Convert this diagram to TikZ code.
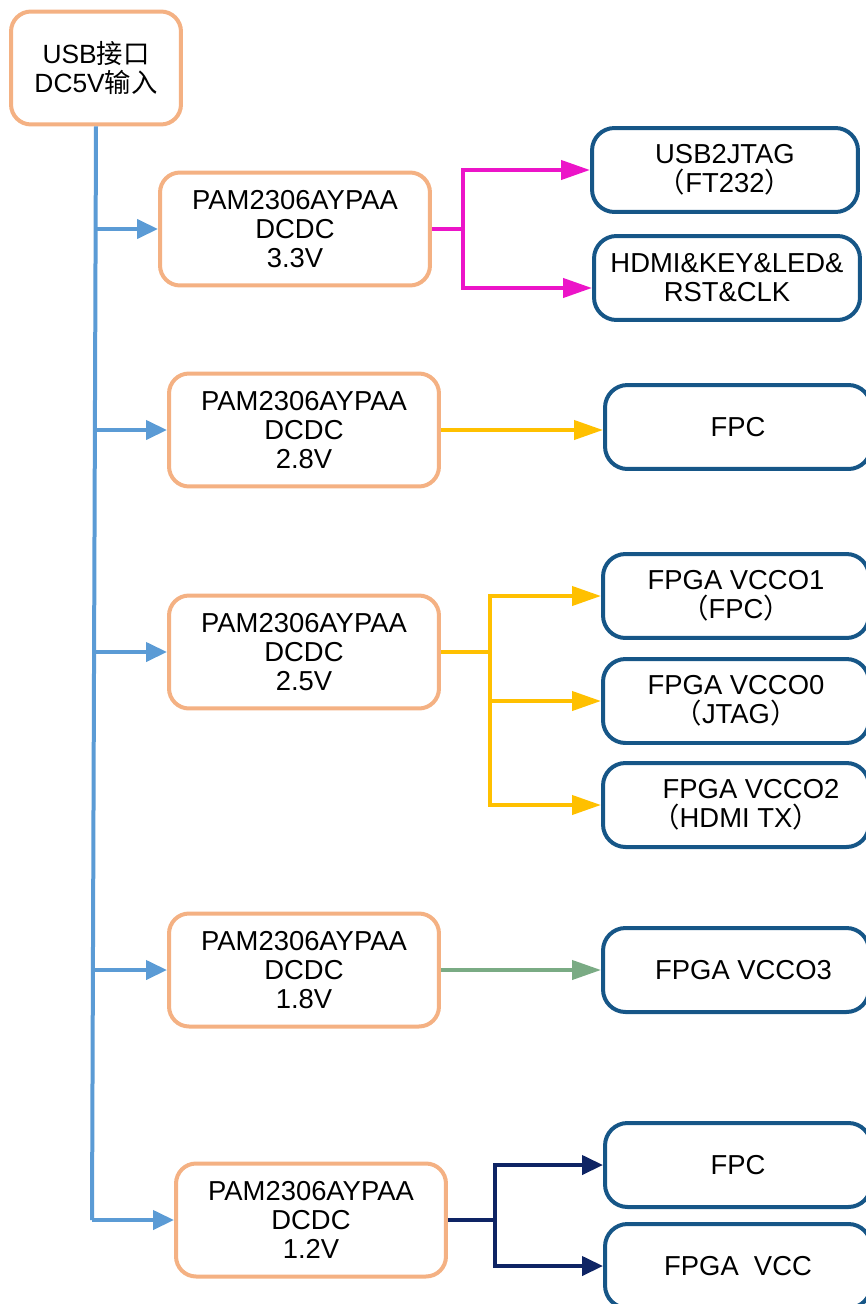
\documentclass[tikz,border=0pt]{standalone}
\usepackage{fontspec}
\setmainfont{Liberation Sans}
\newfontfamily\cjk{Noto Sans CJK SC}
\usetikzlibrary{arrows.meta}
\definecolor{psuorange}{RGB}{244,177,131}
\definecolor{loadblue}{RGB}{22,86,135}
\definecolor{trunkblue}{RGB}{91,155,213}
\definecolor{railpink}{RGB}{236,20,200}
\definecolor{railyellow}{RGB}{255,192,0}
\definecolor{railgreen}{RGB}{122,171,132}
\definecolor{railnavy}{RGB}{14,36,100}
\tikzstyle{psu} = [rectangle, rounded corners=0.4cm, draw=psuorange, line width=0.08cm, minimum width=5.4cm, minimum height=2.26cm, text centered, align=center]
\tikzstyle{src} = [psu, minimum width=3.4cm]
\tikzstyle{load} = [rectangle, rounded corners=0.45cm, draw=loadblue, line width=0.08cm, minimum width=5.32cm, minimum height=1.68cm, text centered, align=center]
\tikzstyle{rail} = [line width=0.08cm, -{Triangle[length=0.58cm, width=0.38cm]}]
\tikzstyle{feed} = [line width=0.08cm, -{Triangle[length=0.42cm, width=0.38cm]}]

\begin{document}
\begin{tikzpicture}[x=0.02cm, y=-0.02cm, font=\fontsize{15.6}{16.4}\selectfont]
        \useasboundingbox (0,0) rectangle (865,1304);
        % source and regulators
        \node [src, font=\fontsize{15}{16.4}\selectfont] at (96,68) (usb) {USB{\cjk 接口}\\DC5V{\cjk 输入}};
        \node [psu] at (295,229) (d33) {PAM2306AYPAA\\DCDC\\3.3V};
        \node [psu] at (304,430) (d28) {PAM2306AYPAA\\DCDC\\2.8V};
        \node [psu] at (304,652) (d25) {PAM2306AYPAA\\DCDC\\2.5V};
        \node [psu] at (304,970) (d18) {PAM2306AYPAA\\DCDC\\1.8V};
        \node [psu] at (311,1220) (d12) {PAM2306AYPAA\\DCDC\\1.2V};
        % loads
        \node [load] at (725,170) (jtag) {USB2JTAG\\{\cjk （}FT232{\cjk ）}};
        \node [load] at (727,278) (misc) {HDMI\&KEY\&LED\&\\RST\&CLK};
        \node [load] at (738,427) (fpca) {FPC};
        \node [load] at (736,596) (vcco1) {FPGA VCCO1\\{\cjk （}FPC{\cjk ）}};
        \node [load] at (736,701) (vcco0) {FPGA VCCO0\\{\cjk （}JTAG{\cjk ）}};
        \node [load] at (736,805) (vcco2) {\hspace*{0.6cm}FPGA VCCO2\\{\cjk （}HDMI TX{\cjk ）}};
        \node [load] at (736,970) (vcco3) {\hspace*{0.3cm}FPGA VCCO3};
        \node [load] at (738,1165) (fpcb) {FPC};
        \node [load] at (738,1266) (vcc) {FPGA\ \ VCC};
        % 5V trunk
        \coordinate (t33) at (96,229);
        \coordinate (t28) at (95,430);
        \coordinate (t25) at (95,652);
        \coordinate (t18) at (94,970);
        \coordinate (t12) at (92,1220);
        \draw [trunkblue, line width=0.08cm] (usb.south) -- (t12);
        \draw [feed, trunkblue] (t33) -- (d33.west);
        \draw [feed, trunkblue] (t28) -- (d28.west);
        \draw [feed, trunkblue] (t25) -- (d25.west);
        \draw [feed, trunkblue] (t18) -- (d18.west);
        \draw [feed, trunkblue] (t12) -- (d12.west);
        % 3.3V
        \coordinate (f33) at (463,229);
        \draw [railpink, line width=0.08cm] (d33.east) -- (f33);
        \draw [rail, railpink] (f33) |- (jtag.west);
        \draw [rail, railpink] (f33) |- ([yshift=-0.2cm]misc.west);
        % 2.8V
        \draw [rail, railyellow] (d28.east) -- (d28.east -| fpca.west);
        % 2.5V
        \coordinate (f25) at (490,652);
        \draw [railyellow, line width=0.08cm] (d25.east) -- (f25);
        \draw [rail, railyellow] (f25) |- (vcco1.west);
        \draw [rail, railyellow] (f25) |- (vcco0.west);
        \draw [rail, railyellow] (f25) |- (vcco2.west);
        % 1.8V
        \draw [rail, railgreen] (d18.east) -- (vcco3.west);
        % 1.2V
        \coordinate (f12) at (495,1220);
        \draw [railnavy, line width=0.08cm] (d12.east) -- (f12);
        \draw [feed, railnavy] (f12) |- (fpcb.west);
        \draw [feed, railnavy] (f12) |- (vcc.west);
\end{tikzpicture}
\end{document}
